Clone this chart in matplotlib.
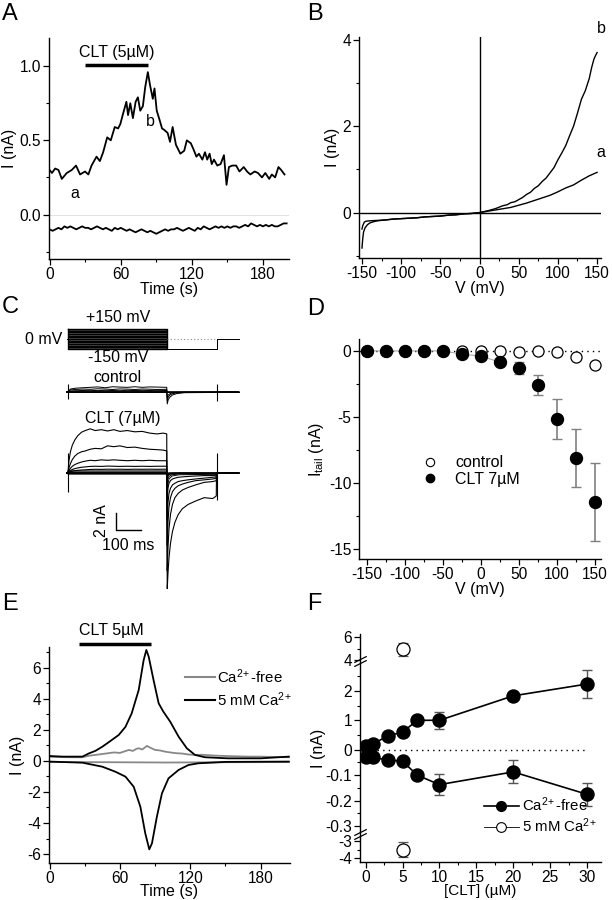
import numpy as np
import matplotlib
matplotlib.use('Agg')
import matplotlib.pyplot as plt
import matplotlib as mpl
import matplotlib.transforms as mtransforms
from matplotlib.lines import Line2D

mpl.rcParams['font.family'] = 'Liberation Sans'
mpl.rcParams['mathtext.fontset'] = 'custom'
mpl.rcParams['mathtext.rm'] = 'Liberation Sans'
mpl.rcParams['mathtext.it'] = 'Liberation Sans:italic'
mpl.rcParams['axes.linewidth'] = 1.0
mpl.rcParams['axes.unicode_minus'] = False
mpl.rcParams['xtick.direction'] = 'out'
mpl.rcParams['ytick.direction'] = 'out'

#
# data
#

# A: current vs time (CLT 5 uM)
tA = [0, 2, 4.7, 7.5, 10.3, 14.5, 18.7, 22.3, 25.7, 29.9, 32.7, 35.4, 39.6, 42.4,
      45.2, 48.6, 51.6, 55, 57.8, 59.7, 62, 64.8, 66.2, 68.1, 70.3, 72.6, 74.5,
      76.5, 78.7, 80.7, 82.9, 84.8, 87.1, 88.5, 90.4, 92.7, 94.9, 96.8, 99.6,
      101.6, 103.8, 106.6, 110.3, 113.6, 115.8, 119.2, 121.4, 123.9, 126, 128.9,
      131.1, 133, 135, 136.8, 138.7, 141.5, 144.3, 147.1, 149.3, 151.3, 154.1,
      157.4, 160.2, 163.8, 166.6, 169.4, 173, 175.8, 179.2, 182, 185.3, 187.5,
      190.3, 193.1, 195.4, 198.2]
IA_out = [0.30, 0.28, 0.31, 0.30, 0.24, 0.28, 0.30, 0.33, 0.27, 0.29, 0.27, 0.33,
          0.39, 0.36, 0.42, 0.52, 0.50, 0.59, 0.58, 0.61, 0.68, 0.76, 0.67, 0.75,
          0.65, 0.76, 0.79, 0.70, 0.73, 0.86, 0.96, 0.87, 0.78, 0.85, 0.70, 0.64,
          0.58, 0.57, 0.55, 0.49, 0.59, 0.47, 0.41, 0.43, 0.50, 0.48, 0.44, 0.39,
          0.41, 0.37, 0.42, 0.37, 0.41, 0.34, 0.37, 0.33, 0.34, 0.40, 0.20, 0.32,
          0.33, 0.33, 0.29, 0.32, 0.29, 0.27, 0.29, 0.28, 0.25, 0.28, 0.24, 0.27,
          0.25, 0.32, 0.30, 0.27]
tA_in = np.arange(0, 200.1, 2.5)
IA_in = [-0.10, -0.11, -0.10, -0.09, -0.10, -0.08, -0.09, -0.08, -0.09, -0.10,
         -0.09, -0.08, -0.09, -0.09, -0.10, -0.09, -0.08, -0.09, -0.10, -0.09,
         -0.10, -0.11, -0.09, -0.10, -0.09, -0.10, -0.11, -0.10, -0.11, -0.12,
         -0.11, -0.10, -0.11, -0.12, -0.11, -0.12, -0.13, -0.12, -0.11, -0.10,
         -0.11, -0.10, -0.10, -0.09, -0.10, -0.11, -0.10, -0.09, -0.10, -0.11,
         -0.09, -0.10, -0.08, -0.09, -0.10, -0.09, -0.08, -0.09, -0.08, -0.09,
         -0.08, -0.09, -0.08, -0.08, -0.09, -0.08, -0.07, -0.08, -0.06, -0.07,
         -0.08, -0.07, -0.08, -0.07, -0.08, -0.07, -0.08, -0.08, -0.07, -0.06,
         -0.06]

# B: I-V ramps at points a and b
Vb = [-150, -149, -148, -146, -143, -140, -135, -130, -120, -110, -100, -90, -80,
      -70, -60, -50, -40, -30, -20, -10, 0, 10, 20, 30, 35, 40, 45, 50, 55, 60, 65,
      70, 75, 80, 85, 90, 95, 100, 105, 110, 115, 120, 125, 130, 135, 140, 143,
      146, 148, 150]
Ib = [-0.82, -0.60, -0.45, -0.35, -0.28, -0.24, -0.21, -0.19, -0.17, -0.15, -0.14,
      -0.13, -0.12, -0.10, -0.09, -0.08, -0.06, -0.05, -0.03, -0.02, 0.0, 0.04,
      0.09, 0.16, 0.18, 0.23, 0.25, 0.30, 0.35, 0.42, 0.47, 0.56, 0.62, 0.72,
      0.80, 0.92, 1.04, 1.22, 1.38, 1.55, 1.78, 2.0, 2.3, 2.62, 2.82, 3.1, 3.35,
      3.55, 3.63, 3.7]
Va = [-150, -149, -147, -145, -140, -130, -120, -110, -100, -90, -80, -70, -60,
      -50, -40, -30, -20, -10, 0, 10, 20, 30, 40, 50, 60, 70, 80, 90, 100, 110,
      120, 130, 140, 150]
Ia = [-0.38, -0.30, -0.22, -0.20, -0.19, -0.18, -0.17, -0.15, -0.14, -0.13, -0.12,
      -0.10, -0.09, -0.08, -0.06, -0.05, -0.03, -0.02, 0.0, 0.03, 0.06, 0.09, 0.12,
      0.17, 0.22, 0.28, 0.34, 0.40, 0.48, 0.57, 0.64, 0.75, 0.85, 0.93]

# C: voltage protocol and current families
step_levels = [-150, -125, -100, -75, -50, -25, 0, 25, 50, 75, 100, 125, 150]
tail_level = -150
step_t = [0, 4, 10, 18, 28, 40, 55, 70, 90, 110, 135, 160, 185, 210, 240, 270,
          300, 330, 360, 385, 399]
clt_steps = [
    [0, 1.4, 2.5, 3.3, 3.9, 4.4, 4.8, 5.0, 5.2, 5.0, 5.1, 4.95, 5.1, 4.9, 5.0,
     4.85, 4.9, 4.7, 4.6, 4.7, 4.6],
    [0, 0.6, 1.1, 1.6, 2.0, 2.3, 2.5, 2.6, 2.8, 2.9, 2.85, 3.2, 3.1, 3.2, 3.0,
     3.05, 2.9, 2.8, 2.75, 2.7, 2.6],
    [0, 0.3, 0.55, 0.8, 1.0, 1.15, 1.3, 1.4, 1.5, 1.45, 1.55, 1.5, 1.55, 1.5,
     1.45, 1.5, 1.45, 1.5, 1.45, 1.45, 1.45],
    [0, 0.15, 0.3, 0.42, 0.52, 0.6, 0.68, 0.72, 0.78, 0.8, 0.78, 0.82, 0.8, 0.78,
     0.8, 0.78, 0.8, 0.78, 0.8, 0.8, 0.8],
    [0, 0.08, 0.15, 0.22, 0.28, 0.32, 0.36, 0.38, 0.42, 0.44, 0.43, 0.45, 0.44,
     0.45, 0.43, 0.45, 0.44, 0.45, 0.44, 0.45, 0.45],
]
tail_t = [401, 404, 408, 414, 422, 432, 445, 462, 485, 515, 550, 585, 599]
clt_tails = [
    [-13.6, -11.8, -10.0, -8.3, -6.9, -5.8, -4.9, -4.2, -3.7, -3.3, -2.9, -3.0, -2.7],
    [-11.5, -8.8, -6.6, -4.9, -3.7, -2.9, -2.4, -2.0, -1.7, -1.4, -1.1, -1.0, -0.9],
    [-8.5, -5.8, -4.0, -2.9, -2.2, -1.8, -1.5, -1.3, -1.1, -0.9, -0.8, -0.7, -0.6],
    [-5.5, -3.5, -2.4, -1.8, -1.4, -1.2, -1.0, -0.9, -0.8, -0.7, -0.6, -0.5, -0.45],
    [-3.0, -1.8, -1.2, -0.9, -0.7, -0.6, -0.5, -0.45, -0.4, -0.35, -0.3, -0.3, -0.25],
]
clt_small_level = [0.25, 0.12, 0.05, 0.0, -0.04, -0.08, -0.12]
small_tail_t = [401, 408, 420, 450, 599]
clt_small_tail = [[-1.6, -0.7, -0.35, -0.2, -0.15], [-0.9, -0.4, -0.2, -0.1, -0.08],
                  [-0.5, -0.2, -0.1, -0.05, -0.05], [-0.3, -0.1, -0.05, 0, 0],
                  [-0.2, -0.05, 0, 0, 0], [-0.1, 0, 0, 0, 0], [0, 0, 0, 0, 0]]
ctrl_t = [0, 10, 30, 60, 90, 120, 150, 180, 210, 240, 270, 300, 330, 360, 399]
ctrl_steps = [
    [0, 0.35, 0.45, 0.5, 0.55, 0.6, 0.5, 0.62, 0.58, 0.55, 0.62, 0.55, 0.6, 0.58, 0.55],
    [0, 0.25, 0.3, 0.35, 0.32, 0.38, 0.35, 0.3, 0.36, 0.34, 0.3, 0.35, 0.33, 0.3, 0.32],
    [0, 0.12, 0.15, 0.18, 0.2, 0.16, 0.2, 0.18, 0.15, 0.2, 0.17, 0.2, 0.18, 0.16, 0.18],
]
ctrl_tail_t = [401, 405, 412, 422, 440, 470, 599]
ctrl_tails = [
    [-1.4, -0.9, -0.6, -0.35, -0.18, -0.08, -0.05],
    [-1.0, -0.6, -0.35, -0.2, -0.1, -0.05, -0.03],
    [-0.6, -0.35, -0.2, -0.1, -0.05, -0.02, 0],
]
ctrl_small_level = [0.08, 0.03, 0.0, -0.03]
clt_spike_t, clt_spike_hi, clt_spike_lo = [0, 600], [2.3, 2.4], [-2.2, -3.2]
ctrl_spike_t, ctrl_spike_hi, ctrl_spike_lo = [0, 600], [1.0, 1.0], [-0.8, -1.0]

# D: tail current vs voltage
VD = [-150, -125, -100, -75, -50, -25, 0, 25, 50, 75, 100, 125, 150]
D_ctrl = [0, 0, 0, 0, 0, 0, 0, 0, -0.1, 0, -0.1, -0.45, -1.05]
D_ctrl_err = [0, 0, 0, 0, 0, 0.3, 0.3, 0.3, 0.3, 0.3, 0.3, 0.2, 0.1]
D_clt = [0, 0, 0, 0, 0, -0.25, -0.4, -0.85, -1.3, -2.6, -5.15, -8.1, -11.4]
D_clt_err = [0, 0, 0, 0, 0, 0.1, 0.1, 0.15, 0.48, 0.75, 1.5, 2.2, 2.95]

# E: Ca-free vs 5 mM Ca
tE_up = [0, 11, 28, 33.6, 39, 45, 53, 59, 64.7, 70, 76, 80.2, 82.5, 84.5, 88.7, 93,
         97, 102.8, 110, 117, 124, 132.5, 152, 180, 204]
IE_up = [0.32, 0.28, 0.28, 0.49, 0.65, 0.92, 1.35, 1.68, 2.2, 3.07, 4.58, 6.5,
         7.16, 6.73, 5.2, 3.72, 3.18, 2.54, 1.57, 0.82, 0.39, 0.24, 0.17, 0.17, 0.28]
tE_dn = [0, 28, 45, 56, 64.7, 71.7, 77.4, 81.6, 85, 87.3, 91.5, 95.8, 101.4, 110,
         118.4, 126.8, 150, 204]
IE_dn = [-0.04, -0.11, -0.37, -0.69, -1.01, -1.66, -2.95, -4.67, -5.7, -5.31,
         -3.59, -2.09, -1.12, -0.58, -0.26, -0.15, -0.06, -0.04]
tG_up = [0, 10, 20, 28, 33, 39, 45, 50, 55, 60, 64, 67.5, 71, 74, 76, 79, 83, 86,
         90, 94, 98.6, 103, 108, 113, 118, 124, 130, 140, 150, 160, 170, 180, 190, 204]
IG_up = [0.27, 0.25, 0.24, 0.24, 0.33, 0.39, 0.45, 0.5, 0.55, 0.52, 0.62, 0.71,
         0.65, 0.78, 0.82, 0.74, 0.97, 0.85, 0.71, 0.68, 0.6, 0.55, 0.5, 0.48,
         0.42, 0.39, 0.4, 0.35, 0.32, 0.3, 0.28, 0.28, 0.26, 0.24]
tG_dn = [0, 50, 100, 150, 204]
IG_dn = [-0.07, -0.08, -0.10, -0.08, -0.07]

# F: dose dependence
clt_conc = [0, 1, 3, 5, 7, 10, 20, 30]
F_out = [0.13, 0.2, 0.47, 0.6, 1.0, 1.0, 1.83, 2.23]
F_out_err = [0, 0, 0, 0, 0.07, 0.28, 0.05, 0.48]
F_in = [-0.027, -0.03, -0.04, -0.045, -0.10, -0.137, -0.087, -0.175]
F_in_err = [0, 0, 0, 0, 0.005, 0.04, 0.045, 0.045]
ca_conc = [5]
ca_out, ca_out_err = [4.95], [0.6]
ca_in, ca_in_err = [-3.5], [0.47]


#
# layout helpers (pixel boxes in a 612 x 900 canvas)
#
W, H = 612., 900.
fig = plt.figure(figsize=(6.12, 9.0), dpi=100)
FS = 11.5     # axis labels / annotations
TS = 11.2     # tick labels
LS = 10.8     # legends


def rect(l, t, r, b):
    return [l / W, 1 - b / H, (r - l) / W, (b - t) / H]


def ftext(x, y, s, **kw):
    fig.text(x / W, 1 - y / H, s, **kw)


def style(ax):
    for s in ['top', 'right']:
        ax.spines[s].set_visible(False)
    ax.tick_params(which='major', length=4, width=0.9, labelsize=TS, pad=1.5)
    ax.tick_params(which='minor', length=2, width=0.8)


LW = 1.3
CA_FREE = 'Ca$^{2\\!+}$-free'
CA_5MM = '5 mM Ca$^{2\\!+}$'

# ---- A ----
ax = fig.add_axes(rect(49, 38, 289, 259))
style(ax)
ax.axhline(0, color='#dddddd', lw=0.6, zorder=0)
ax.plot(tA, IA_out, color='k', lw=LW)
ax.plot(tA_in, IA_in, color='k', lw=LW)
ax.plot([30, 83], [1.01, 1.01], color='k', lw=2.5, solid_capstyle='butt')
ax.text(56.5, 1.04, 'CLT (5µM)', ha='center', va='bottom', fontsize=FS)
ax.text(21, 0.14, 'a', ha='center', va='center', fontsize=FS)
ax.text(85, 0.63, 'b', ha='center', va='center', fontsize=FS)
ax.set_xlim(-0.5, 202)
ax.set_ylim(-0.30, 1.19)
ax.set_xticks([0, 60, 120, 180])
ax.set_xticks([30, 90, 150], minor=True)
ax.set_yticks([0.0, 0.5, 1.0])
ax.set_yticklabels(['0.0', '0.5', '1.0'])
ax.set_yticks([-0.25, 0.25, 0.75], minor=True)
ax.set_xlabel('Time (s)', fontsize=FS, labelpad=0)
ax.set_ylabel('I (nA)', fontsize=FS, labelpad=2)

# ---- B ----
ax = fig.add_axes(rect(359, 37, 601, 258))
style(ax)
ax.axhline(0, color='k', lw=1.0)
ax.axvline(0, color='k', lw=1.0)
ax.plot(Vb, Ib, color='k', lw=1.0)
ax.plot(Va, Ia, color='k', lw=1.0)
ax.text(155, 4.25, 'b', ha='center', va='center', fontsize=FS, clip_on=False)
ax.text(155, 1.4, 'a', ha='center', va='center', fontsize=FS, clip_on=False)
ax.set_xlim(-153.8, 155)
ax.set_ylim(-1.05, 4.06)
ax.set_xticks([-150, -100, -50, 0, 50, 100, 150])
ax.set_xticks([-125, -75, -25, 25, 75, 125], minor=True)
ax.set_yticks([0, 2, 4])
ax.set_yticks([-1, 1, 3], minor=True)
ax.set_xlabel('V (mV)', fontsize=FS, labelpad=0)
ax.set_ylabel('I (nA)', fontsize=FS, labelpad=2)

# ---- C ----
c_xlim = (-32, 715)
axv = fig.add_axes(rect(60, 320, 245, 358))
axv.axis('off')
axv.set_xlim(*c_xlim)
axv.set_ylim(-285, 285)
axv.fill_between([0, 400], min(step_levels), max(step_levels), color='#3a3a3a', lw=0)
for lv in step_levels:
    axv.plot([-5, 0, 0, 400, 400, 600, 600, 690],
             [0, 0, lv, lv, tail_level, tail_level, 0, 0], color='k', lw=0.7)
axv.plot([0, 400, 400, 0, 0], [150, 150, -150, -150, 150], color='k', lw=1.0)
axv.plot([400, 600], [0, 0], color='#888888', lw=0.8, ls=(0, (1, 2)))

axc = fig.add_axes(rect(60, 375, 245, 415))
axc.axis('off')
axc.set_xlim(*c_xlim)
axc.set_ylim(-2.7, 2.0)
for s, tl in zip(ctrl_steps, ctrl_tails):
    axc.plot([-5] + ctrl_t + ctrl_tail_t + [600, 690], [0] + s + tl + [0, 0],
             color='k', lw=0.7)
for lv in ctrl_small_level:
    axc.plot([-5, 0, 0, 399, 401, 599, 600, 690], [0, 0, lv, lv, 0, 0, 0, 0],
             color='k', lw=0.7)
axc.vlines(ctrl_spike_t, ctrl_spike_lo, ctrl_spike_hi, color='k', lw=0.8)

axk = fig.add_axes(rect(60, 420, 245, 595))
axk.axis('off')
axk.set_xlim(*c_xlim)
axk.set_ylim(-14.35, 6.24)
for s, tl in zip(clt_steps, clt_tails):
    axk.plot([-5] + step_t + tail_t + [600, 690], [0] + s + tl + [0, 0],
             color='k', lw=0.8)
for lv, tl in zip(clt_small_level, clt_small_tail):
    axk.plot([-5, 0, 0, 399] + small_tail_t + [600, 690],
             [0, 0, lv, lv] + tl + [0, 0], color='k', lw=0.7)
axk.vlines(clt_spike_t, clt_spike_lo, clt_spike_hi, color='k', lw=0.8)
# scale bar: 2 nA / 100 ms
sb_nA, sb_ms = 2, 100
axk.plot([194, 194, 194 + sb_ms], [-6.7 + sb_nA, -6.7, -6.7], color='k', lw=1.0)

ftext(118, 318, '+150 mV', ha='center', va='center', fontsize=FS)
ftext(62, 340, '0 mV', ha='right', va='center', fontsize=FS)
ftext(118, 357, '-150 mV', ha='center', va='center', fontsize=FS)
ftext(117, 378, 'control', ha='center', va='center', fontsize=FS)
ftext(123, 418, 'CLT (7µM)', ha='center', va='center', fontsize=FS)
ftext(102, 521, '2 nA', ha='center', va='center', fontsize=FS, rotation=90)
ftext(128, 545, '100 ms', ha='center', va='center', fontsize=FS)

# ---- D ----
ax = fig.add_axes(rect(359, 339, 601, 559))
style(ax)
ax.axhline(0, color='k', lw=1.0, ls=(0, (1, 3)), zorder=0)
ax.plot(VD[:8], D_clt[:8], color='#aaaaaa', lw=0.8, zorder=1)
ax.errorbar(VD, D_ctrl, yerr=D_ctrl_err, fmt='o', ms=8, mfc='white', mec='k',
            mew=0.9, ecolor='#666666', elinewidth=1.0, capsize=3, zorder=2)
ax.errorbar(VD, D_clt, yerr=D_clt_err, fmt='o', ms=8.6, mfc='k', mec='k',
            ecolor='#808080', elinewidth=1.2, capsize=3.5, zorder=3)
hD = [Line2D([], [], ls='none', marker='o', ms=6, mfc='white', mec='k', mew=0.8),
      Line2D([], [], ls='none', marker='o', ms=6, mfc='k', mec='k')]
ax.legend(hD, ['control', 'CLT 7µM'], loc='upper left', bbox_to_anchor=(0.2, 0.5),
          frameon=False, fontsize=FS, handletextpad=0.6, labelspacing=0.1,
          borderaxespad=0)
ax.set_xlim(-160.5, 158)
ax.set_ylim(-15.75, 0.9)
ax.set_xticks([-150, -100, -50, 0, 50, 100, 150])
ax.set_xticks([-125, -75, -25, 25, 75, 125], minor=True)
ax.set_yticks([0, -5, -10, -15])
ax.set_yticks([-2.5, -7.5, -12.5], minor=True)
ax.set_xlabel('V (mV)', fontsize=FS, labelpad=0)
ax.set_ylabel('I$_{\\mathrm{tail}}$ (nA)', fontsize=FS, labelpad=2)

# ---- E ----
ax = fig.add_axes(rect(49, 647, 290, 863))
style(ax)
ax.plot(tG_up, IG_up, color='#888888', lw=LW)
ax.plot(tG_dn, IG_dn, color='#888888', lw=LW)
ax.plot(tE_up, IE_up, color='k', lw=LW)
ax.plot(tE_dn, IE_dn, color='k', lw=LW)
ax.plot([25, 86.7], [7.53, 7.53], color='k', lw=2.5, clip_on=False,
        solid_capstyle='butt')
ax.text(53, 7.95, 'CLT 5µM', ha='center', va='bottom', fontsize=FS)
hE = [Line2D([], [], color='#888888', lw=1.5), Line2D([], [], color='k', lw=1.5)]
ax.legend(hE, [CA_FREE, CA_5MM], loc='upper left',
          bbox_to_anchor=(0.54, 0.935), frameon=False, fontsize=LS,
          handlelength=2.0, handletextpad=0.1, labelspacing=0.3, borderaxespad=0)
ax.set_xlim(-0.5, 205)
ax.set_ylim(-6.58, 7.35)
ax.set_xticks([0, 60, 120, 180])
ax.set_xticks([30, 90, 150], minor=True)
ax.set_yticks([-6, -4, -2, 0, 2, 4, 6])
ax.set_yticks([-5, -3, -1, 1, 3, 5, 7], minor=True)
ax.set_xlabel('Time (s)', fontsize=FS, labelpad=-1)
ax.set_ylabel('I (nA)', fontsize=FS, labelpad=2)

# ---- F (broken y axis through a piecewise scale) ----
brk_vals = [-4.25, -2.75, -0.32, 0.0, 3.0, 4.0, 6.6]
brk_pos = [-863, -838, -832, -750, -661, -660, -630]


def fwd(v):
    return np.interp(v, brk_vals, brk_pos)


def inv(p):
    return np.interp(p, brk_pos, brk_vals)


ax = fig.add_axes(rect(360, 634, 601, 862))
style(ax)
ax.set_yscale('function', functions=(fwd, inv))
ax.set_ylim(-4.25, 6.3)
ax.set_xlim(-0.77, 31.9)
ax.plot([0, 30], [0, 0], color='k', lw=1.0, ls=(0, (1, 3)), zorder=0)
for yv, ye in [(F_out, F_out_err), (F_in, F_in_err)]:
    ax.errorbar(clt_conc, yv, yerr=ye, fmt='-o', color='k', ms=9.4, lw=1.2,
                ecolor='#555555', elinewidth=1.0, capsize=3.5, zorder=3)
for yv, ye in [(ca_out, ca_out_err), (ca_in, ca_in_err)]:
    ax.errorbar(ca_conc, yv, yerr=ye, fmt='o', ms=9.4, mfc='white', mec='k',
                mew=0.9, ecolor='#555555', elinewidth=1.0, capsize=3.5, zorder=3)
ax.set_yticks([-4, -3, -0.3, -0.2, -0.1, 0, 1, 2, 4, 6])
ax.set_yticklabels(['-4', '-3', '-0.3', '-0.2', '-0.1', '0', '1', '2', '4', '6'])
ax.set_yticks([-3.5, -0.25, -0.15, -0.05, 0.5, 1.5, 2.5, 5], minor=True)
ax.set_xticks([0, 5, 10, 15, 20, 25, 30])
ax.set_xticks([2.5, 7.5, 12.5, 17.5, 22.5, 27.5], minor=True)
trans = ax.get_yaxis_transform()
for yb in [3.5, -1.5]:
    for dy in [-2, 2]:
        tr = mtransforms.offset_copy(trans, fig=fig, x=0, y=dy, units='dots')
        ax.plot([0], [yb], marker=[(-1, -0.5), (1, 0.5)], ms=9, color='k',
                mew=0.9, transform=tr, clip_on=False)
hF = [Line2D([], [], color='k', lw=1.2, marker='o', ms=7),
      Line2D([], [], color='k', lw=0.6, marker='o', ms=7, mfc='white', mew=0.8)]
ax.legend(hF, [CA_FREE, CA_5MM], loc='lower left',
          bbox_to_anchor=(0.49, 0.09), frameon=False, fontsize=LS,
          handlelength=2.3, handletextpad=0.2, labelspacing=0.2, borderaxespad=0)
ax.set_xlabel('[CLT] (µM)', fontsize=11, labelpad=-0.5)
ax.set_ylabel('I (nA)', fontsize=FS, labelpad=0)

# panel letters
for x, y, s in [(2, 3, 'A'), (307, 3, 'B'), (2, 296, 'C'), (307, 298, 'D'),
                (2, 593, 'E'), (307, 593, 'F')]:
    ftext(x, y, s, ha='left', va='top', fontsize=17)

fig.savefig('out.png', dpi=100)
